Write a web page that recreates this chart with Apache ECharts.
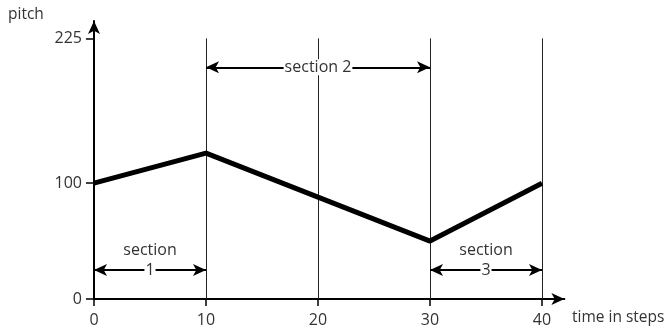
<!DOCTYPE html>
<html>
<head>
<meta charset="utf-8">
<script src="https://cdn.jsdelivr.net/npm/echarts@6/dist/echarts.min.js"></script>
<style>
  html, body { margin: 0; padding: 0; background: #fff; }
  #chart { width: 670px; height: 332px; }
</style>
</head>
<body>
<div id="chart"></div>
<script>
// data
const steps = [0, 10, 20, 30, 40]
const pitch = [100, 126, 88, 50, 100]
const xTicks = [0, 10, 20, 30, 40]
const yTicks = [0, 100, 225]
const sectionStart = [0, 10, 30]
const sectionEnd = [10, 30, 40]
const sectionLevel = [25, 200, 25]
const sectionTitle = ['section', '', 'section']
const sectionName = ['1', 'section 2', '3']

const font = '"Open Sans", Roboto, sans-serif'
const textColor = '#333'

const myChart = echarts.init(document.getElementById('chart'))

const axisCommon = {
  axisLine: {
    lineStyle: { color: '#000', width: 2 },
    symbol: ['none', 'arrow'],
    symbolSize: [9, 13],
  },
  splitLine: { show: false },
}

const options = {
  animation: false,
  grid: { left: 94, right: 105.6, top: 21, bottom: 33 },
  xAxis: {
    type: 'value',
    min: 0,
    max: 42,
    ...axisCommon,
    axisTick: { customValues: xTicks, length: 7, lineStyle: { color: '#000', width: 1.5 } },
    axisLabel: { customValues: xTicks, margin: 13, fontSize: 16, color: textColor, fontFamily: font },
  },
  yAxis: {
    type: 'value',
    min: 0,
    max: 240,
    ...axisCommon,
    axisTick: { customValues: yTicks, length: 8, lineStyle: { color: '#000', width: 1.5 } },
    axisLabel: { customValues: yTicks, margin: 12, fontSize: 16, color: textColor, fontFamily: font },
  },
  graphic: [
    { type: 'text', left: 8, top: 7, style: { text: 'pitch', fontSize: 15.5, fill: textColor, fontFamily: font } },
    { type: 'text', left: 572, top: 310, style: { text: 'time in steps', fontSize: 15.5, fill: textColor, fontFamily: font } },
  ],
  series: [
    {
      // vertical guide lines
      type: 'line',
      data: [],
      markLine: {
        z: 1,
        silent: true,
        symbol: 'none',
        label: { show: false },
        lineStyle: { color: '#222', width: 1, type: 'solid' },
        data: xTicks.slice(1).map((x) => [
          { coord: [x, 0] },
          { coord: [x, yTicks[yTicks.length - 1]] },
        ]),
      },
    },
    {
      type: 'line',
      z: 3,
      data: steps.map((x, i) => [x, pitch[i]]),
      symbol: 'none',
      lineStyle: { color: '#000', width: 5 },
    },
    {
      // section arrows
      type: 'line',
      data: [],
      markLine: {
        z: 6,
        silent: true,
        symbol: ['arrow', 'arrow'],
        symbolSize: [9, 13],
        lineStyle: { color: '#000', width: 2, type: 'solid' },
        label: {
          show: true,
          position: 'middle',
          distance: -10,
          color: textColor,
          fontSize: 16,
          fontFamily: font,
          formatter: (p) => (p.data.title ? '{t|' + p.data.title + '}\n' : '') + '{n|' + p.name + '}',
          rich: {
            t: { fontSize: 16, lineHeight: 20, color: textColor, fontFamily: font },
            n: { fontSize: 16, lineHeight: 20, color: textColor, fontFamily: font, backgroundColor: '#fff', padding: [0, 1] },
          },
        },
        data: sectionStart.map((s, i) => [
          { name: sectionName[i], title: sectionTitle[i], coord: [s, sectionLevel[i]] },
          { coord: [sectionEnd[i], sectionLevel[i]] },
        ]),
      },
    },
  ],
}
myChart.setOption(options)
</script>
</body>
</html>
